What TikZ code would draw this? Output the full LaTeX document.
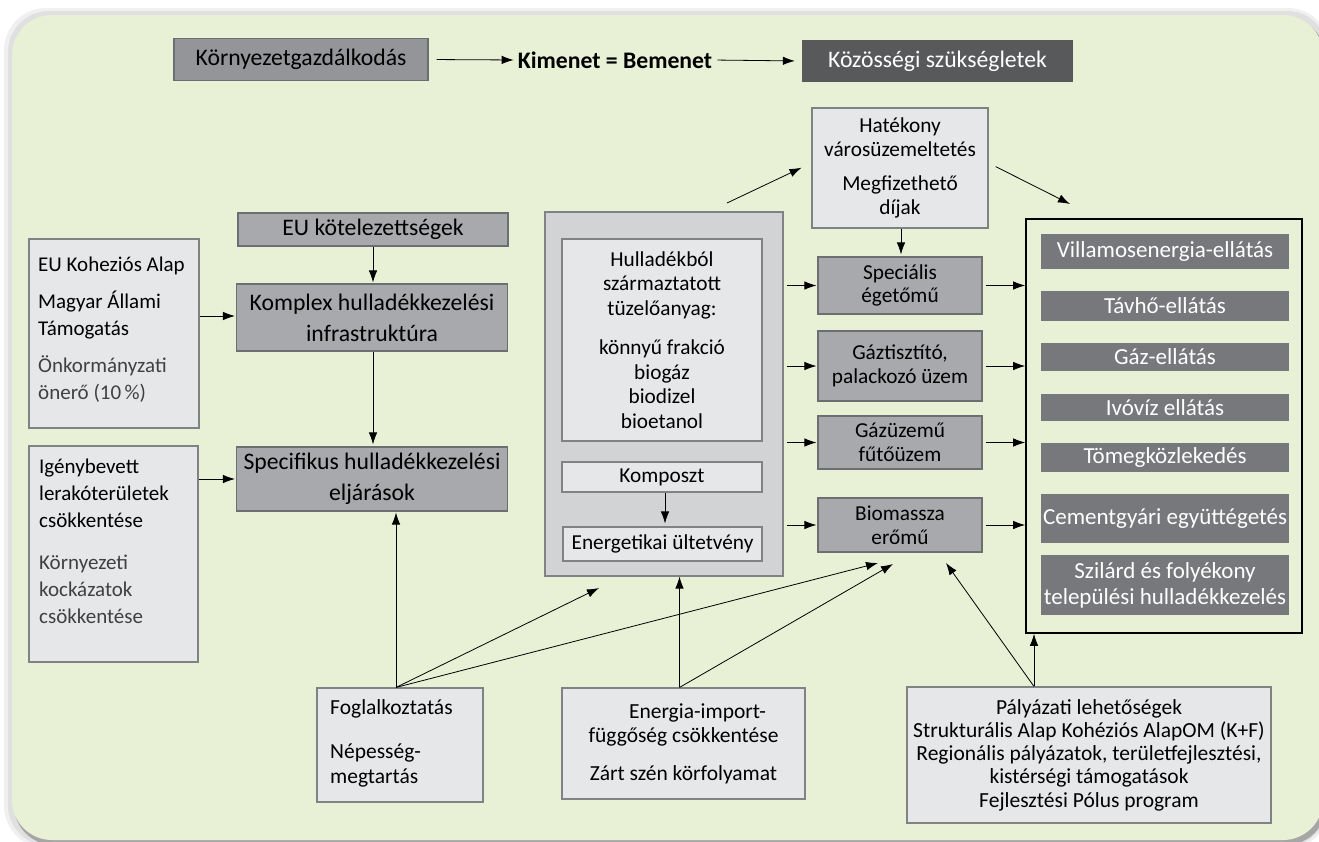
\documentclass[tikz,border=0pt]{standalone}
\usepackage{fontspec}
\setmainfont{Carlito}
\usetikzlibrary{arrows.meta,calc}

\definecolor{bggreen}{HTML}{E8F0D6}
\definecolor{lightbox}{HTML}{E6E7E8}
\definecolor{boxline}{HTML}{808285}
\definecolor{midbox}{HTML}{A7A9AC}
\definecolor{midline}{HTML}{6D6E71}
\definecolor{kgbox}{HTML}{939598}
\definecolor{darkbox}{HTML}{58595B}
\definecolor{listbox}{HTML}{77787B}
\definecolor{contbox}{HTML}{D1D3D4}
\definecolor{softtext}{HTML}{404040}

\newcommand\szBig{\fontsize{23.7}{31}\selectfont}
\newcommand\szList{\fontsize{23}{26}\selectfont}
\newcommand\szMid{\fontsize{21.3}{23.5}\selectfont}
\newcommand\szHull{\fontsize{21.3}{24.5}\selectfont}
\newcommand\szSm{\fontsize{21}{27}\selectfont}
\newcommand\szXs{\fontsize{21.5}{24.5}\selectfont}

\begin{document}
\begin{tikzpicture}[x=1pt,y=-1pt,
  lbox/.style={draw=boxline, fill=lightbox, line width=1.1pt, inner sep=0pt, align=center},
  mbox/.style={draw=midline, fill=midbox, line width=1.1pt, inner sep=0pt, align=center},
  dbox/.style={fill=listbox, text=white, inner sep=0pt, align=center, font=\szList},
  conn/.style={line width=0.8pt, -{Latex[length=12pt,width=8.5pt]}},
  plain/.style={inner sep=0pt}]

\useasboundingbox (0,0) rectangle (1319,841);

% soft frame shadow and the green panel
\fill[black!6, rounded corners=42pt] (4,8) rectangle (1330,848);
\fill[black!12, rounded corners=41pt] (8,11) rectangle (1328,846);
\fill[black!35, rounded corners=40pt] (14,18) rectangle (1326,845);
\fill[bggreen, rounded corners=40pt] (12,15) rectangle (1323,840);

% top line
\node[mbox, fill=kgbox, minimum width=254, minimum height=42, font=\szBig] (kg) at (301,59.5) {Környezetgazdálkodás};
\node[plain, font=\szBig\bfseries] (kim) at (615,60) {Kimenet = Bemenet};
\node[fill=darkbox, text=white, inner sep=0pt, minimum width=271, minimum height=42, font=\szBig] (koz) at (937.5,61) {Közösségi szükségletek};
\draw[conn, shorten <=8pt, shorten >=4pt] (kg.east) -- (kim.west);
\draw[conn, shorten <=5pt, shorten >=7pt] (kim.east) -- (koz.west);

% left column
\node[lbox, minimum width=170, minimum height=189] (eu) at (114,333.5) {};
\node[plain, anchor=north west, align=left, font=\szSm] (eut) at (38,257)
  {EU Koheziós Alap\\[10pt]Magyar Állami\\Támogatás\\[10pt]\textcolor{softtext}{Önkormányzati}\\\textcolor{softtext}{önerő (10\,\%)}};

\node[lbox, minimum width=169, minimum height=216] (igeny) at (113.5,554) {};
\node[plain, anchor=north west, align=left, font=\szSm] (igenyt) at (39,459)
  {Igénybevett\\lerakóterületek\\csökkentése\\[15pt]\textcolor{softtext}{Környezeti}\\\textcolor{softtext}{kockázatok}\\\textcolor{softtext}{csökkentése}};

\node[mbox, minimum width=270, minimum height=33, font=\szBig] (euk) at (373,229.5) {EU kötelezettségek};
\node[mbox, minimum width=271, minimum height=67, font=\szBig] (komplex) at (372,317.5) {Komplex hulladékkezelési\\infrastruktúra};
\node[mbox, minimum width=271, minimum height=64, font=\szBig] (specif) at (372,479) {Specifikus hulladékkezelési\\eljárások};

\draw[conn, shorten >=1pt] (euk.south -| 373,0) -- (komplex.north -| 373,0);
\draw[conn, shorten >=2pt] (komplex.south -| 373,0) -- (specif.north -| 373,0);
\draw[conn, shorten >=1pt] (eu.east |- 0,316) -- (komplex.west |- 0,316);
\draw[conn, shorten >=1pt] (igeny.east |- specif.west) -- (specif.west);

% fuel container
\node[draw=boxline, fill=contbox, line width=1.1pt, minimum width=238, minimum height=364, inner sep=0pt] (cont) at (664,394) {};
\node[lbox, minimum width=200, minimum height=202, font=\szHull] (hull) at (662,340)
  {Hulladékból\\származtatott\\tüzelőanyag:\\[15pt]könnyű frakció\\biogáz\\biodizel\\bioetanol};
\node[lbox, minimum width=200, minimum height=30, font=\szMid] (komp) at (662,477) {Komposzt};
\node[lbox, minimum width=199, minimum height=34, font=\szMid] (ener) at (662.5,544) {Energetikai ültetvény};
\draw[conn, shorten >=3pt] (komp.south -| 665,0) -- (ener.north -| 665,0);

% plants
\node[lbox, minimum width=176, minimum height=120, font=\szMid] (hat) at (900,168)
  {Hatékony\\városüzemeltetés\\[11pt]Megfizethető\\díjak};
\node[mbox, minimum width=164, minimum height=57, font=\szMid] (spec) at (900,285.5) {Speciális\\égetőmű};
\node[mbox, minimum width=164, minimum height=70, font=\szMid] (gazt) at (900,366) {Gáztisztító,\\palackozó üzem};
\node[mbox, minimum width=164, minimum height=53, font=\szMid] (gazu) at (900,442.5) {Gázüzemű\\fűtőüzem};
\node[mbox, minimum width=164, minimum height=54, font=\szMid] (biom) at (900,525) {Biomassza\\erőmű};

\draw[conn, shorten >=2pt] (hat.south -| 901,0) -- (spec.north -| 901,0);
\foreach \p in {spec,gazt,gazu,biom}
  \draw[conn, shorten <=3pt, shorten >=1pt] (cont.east |- \p.west) -- (\p.west);

% community needs
\node[draw=black, line width=1.6pt, minimum width=276, minimum height=414, inner sep=0pt] (rbox) at (1164,426) {};
\node[dbox, minimum width=248, minimum height=35] (v1) at (1165,251.5) {Villamosenergia-ellátás};
\node[dbox, minimum width=248, minimum height=30] (v2) at (1165,306) {Távhő-ellátás};
\node[dbox, minimum width=248, minimum height=28] (v3) at (1165,357) {Gáz-ellátás};
\node[dbox, minimum width=248, minimum height=27] (v4) at (1165,407.5) {Ivóvíz ellátás};
\node[dbox, minimum width=248, minimum height=29] (v5) at (1165,457.5) {Tömegközlekedés};
\node[dbox, minimum width=248, minimum height=49] (v6) at (1165,518.5) {Cementgyári együttégetés};
\node[dbox, minimum width=248, minimum height=60] (v7) at (1165,585) {Szilárd és folyékony\\települési hulladékkezelés};

\foreach \p in {spec,gazt,gazu,biom}
  \draw[conn, shorten <=3pt] (\p.east) -- (\p.east -| rbox.west);

% links around the city operation box
\coordinate (hin) at (727,203);
\coordinate (hout) at (1070,204);
\draw[conn, shorten >=11pt] (hin) -- (hat.west |- 0,163);
\draw[conn, shorten <=8pt] (hat.east |- 0,163) -- (hout);

% bottom row
\node[lbox, minimum width=166, minimum height=114] (fog) at (400,745) {};
\node[plain, anchor=north west, align=left, font=\szXs] (fogt) at (330,699)
  {Foglalkoztatás\\[20pt]Népesség-\\megtartás};
\node[lbox, minimum width=243, minimum height=111, font=\szXs] (energ) at (683.5,743.5)
  {\hspace*{28pt}Energia-import-\\függőség csökkentése\\[13pt]Zárt szén körfolyamat};
\node[lbox, minimum width=364, minimum height=136, font=\fontsize{21.5}{23.3}\selectfont] (pal) at (1089,755)
  {Pályázati lehetőségek\\Strukturális Alap Kohéziós AlapOM (K+F)\\Regionális pályázatok, területfejlesztési,\\kistérségi támogatások\\Fejlesztési Pólus program};

\coordinate (fogtop) at ([xshift=-4pt]fog.north);
\coordinate (entop) at ([xshift=-4pt]energ.north);
\coordinate (paltop) at ([xshift=-55pt]pal.north);
\coordinate (t1) at (599,588);
\coordinate (t2) at (878,563);
\coordinate (t3) at (893,564);
\coordinate (t4) at (946,563);

\draw[conn, shorten >=1pt] (fogtop) -- (fogtop |- specif.south);
\draw[conn] (fogtop) -- (t1);
\draw[conn] (fogtop) -- (t2);
\draw[conn] (entop) -- (entop |- cont.south);
\draw[conn] (entop) -- (t3);
\draw[conn] (paltop) -- (t4);
\draw[conn] (paltop) -- (paltop |- rbox.south);

\end{tikzpicture}
\end{document}
